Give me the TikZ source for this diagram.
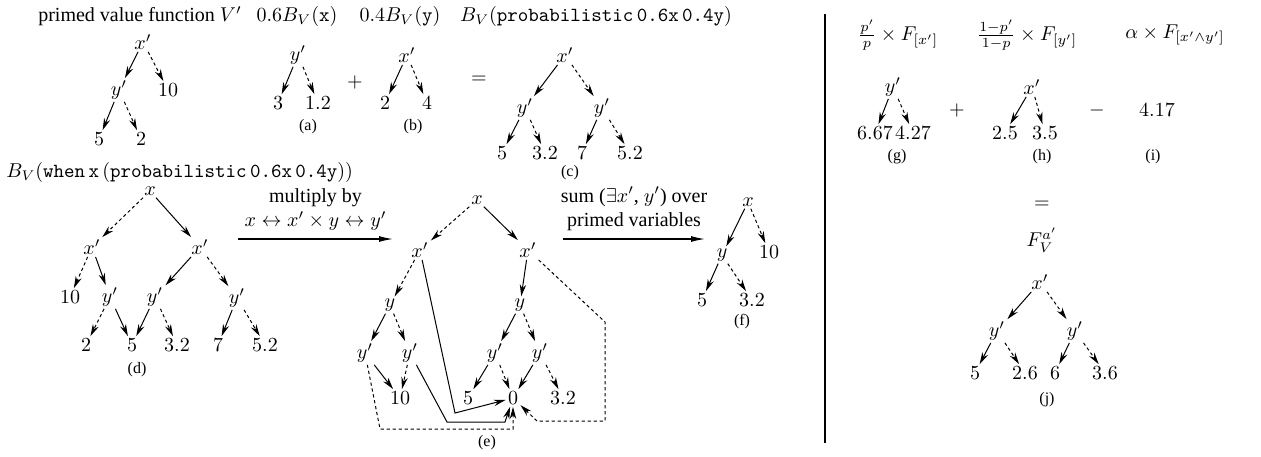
\documentclass[tikz,border=0pt]{standalone}
\usepackage[no-math]{fontspec}
\setmainfont{Liberation Serif}
\usetikzlibrary{arrows.meta}

\begin{document}
\begin{tikzpicture}[
  x=0.5pt, y=-0.5pt,
  every node/.style={inner sep=1pt},
  hi/.style={-{Stealth[length=6pt,width=3.2pt]}, line width=0.5pt},
  lo/.style={hi, dash pattern=on 1.6pt off 1.4pt},
  subcap/.style={font=\footnotesize},
  bigarr/.style={-{Latex[length=7pt,width=3pt]}, line width=0.6pt}
]
\useasboundingbox (0,0) rectangle (1261,456);

\node (vT) at (140,16) {primed value function $V'$};
\node (vX) at (143,42) {$x'$};
\node (vY) at (119,90) {$y'$};
\node (v10) at (168,90) {$10$};
\node (v5) at (99,139) {$5$};
\node (v2) at (141,139) {$2$};
\draw[hi] (vX) -- (vY);
\draw[lo] (vX) -- (v10);
\draw[hi] (vY) -- (v5);
\draw[lo] (vY) -- (v2);

\node (aT) at (297,16) {$0.6B_V(\texttt{x})$};
\node (aY) at (298,55) {$y'$};
\node (a3) at (278,103) {$3$};
\node (a12) at (318,103) {$1.2$};
\node[subcap] (aC) at (308,127) {(a)};
\draw[hi] (aY) -- (a3);
\draw[lo] (aY) -- (a12);
\node (plusA) at (355,82) {$+$};

\node (bT) at (400,16) {$0.4B_V(\texttt{y})$};
\node (bX) at (407,55) {$x'$};
\node (b2) at (385,103) {$2$};
\node (b4) at (427,103) {$4$};
\node[subcap] (bC) at (413,127) {(b)};
\draw[hi] (bX) -- (b2);
\draw[lo] (bX) -- (b4);
\node (eqC) at (479,80) {$=$};

\node (cT) at (596,16) {$B_V(\texttt{probabilistic}\,\texttt{0.6x}\,\texttt{0.4y})$};
\node (cX) at (565,55) {$x'$};
\node (cY1) at (525,108) {$y'$};
\node (cY2) at (602,108) {$y'$};
\node (c5) at (502,153) {$5$};
\node (c32) at (545,153) {$3.2$};
\node (c7) at (582,153) {$7$};
\node (c52) at (630,153) {$5.2$};
\node[subcap] (cC) at (570,173) {(c)};
\draw[hi] (cX) -- (cY1);
\draw[lo] (cX) -- (cY2);
\draw[hi] (cY1) -- (c5);
\draw[lo] (cY1) -- (c32);
\draw[hi] (cY2) -- (c7);
\draw[lo] (cY2) -- (c52);

\node[anchor=west] (dT) at (4,172) {$B_V(\texttt{when}\,\texttt{x}\,(\texttt{probabilistic}\,\texttt{0.6x}\,\texttt{0.4y}))$};
\node (dX) at (150,191) {$x$};
\node (dXa) at (92,247) {$x'$};
\node (dXb) at (200,247) {$x'$};
\node (d10) at (70,297) {$10$};
\node (dY1) at (110,297) {$y'$};
\node (dY2) at (155,297) {$y'$};
\node (dY3) at (237,298) {$y'$};
\node (d2) at (86,345) {$2$};
\node (d5) at (132,345) {$5$};
\node (d32) at (177,345) {$3.2$};
\node (d7) at (218,345) {$7$};
\node (d52) at (265,345) {$5.2$};
\node[subcap] (dC) at (137,370) {(d)};
\draw[lo] (dX) -- (dXa);
\draw[hi] (dX) -- (dXb);
\draw[lo] (dXa) -- (d10);
\draw[hi] (dXa) -- (dY1);
\draw[hi] (dXb) -- (dY2);
\draw[lo] (dXb) -- (dY3);
\draw[lo] (dY1) -- (d2);
\draw[hi] (dY1) -- (d5);
\draw[hi] (dY2) -- (d5);
\draw[lo] (dY2) -- (d32);
\draw[hi] (dY3) -- (d7);
\draw[lo] (dY3) -- (d52);

\coordinate (mulA) at (238,239);
\coordinate (mulB) at (393,239);
\draw[bigarr] (mulA) -- node[above=3pt, align=center] {multiply by\\$x \leftrightarrow x' \times y \leftrightarrow y'$} (mulB);

\node (eX) at (477,200) {$x$};
\node (eXa) at (420,250) {$x'$};
\node (eXb) at (528,250) {$x'$};
\node (eYa) at (390,305) {$y$};
\node (eYb) at (520,305) {$y$};
\node (eY1) at (365,353) {$y'$};
\node (eY2) at (410,353) {$y'$};
\node (eY3) at (495,353) {$y'$};
\node (eY4) at (540,353) {$y'$};
\node (e10) at (400,398) {$10$};
\node (e5) at (468,398) {$5$};
\node (e0) at (513,398) {$0$};
\node (e32) at (563,398) {$3.2$};
\node[subcap] (eC) at (487,443) {(e)};
\draw[lo] (eX) -- (eXa);
\draw[hi] (eX) -- (eXb);
\draw[lo] (eXa) -- (eYa);
\draw[hi] (eXa) -- (455,413) -- (e0);
\draw[hi] (eXb) -- (eYb);
\draw[lo] (eXb) -- (605,322) -- (605,421) -- (537,421) -- (e0);
\draw[hi] (eYa) -- (eY1);
\draw[lo] (eYa) -- (eY2);
\draw[hi] (eY1) -- (e10);
\draw[lo] (eY1) -- (380,429) -- (513,429) -- (e0);
\draw[lo] (eY2) -- (e10);
\draw[hi] (eY2) -- (447,422) -- (505,422) -- (e0);
\draw[hi] (eYb) -- (eY3);
\draw[lo] (eYb) -- (eY4);
\draw[hi] (eY3) -- (e5);
\draw[lo] (eY3) -- (e0);
\draw[hi] (eY4) -- (e0);
\draw[lo] (eY4) -- (e32);

\coordinate (sumA) at (563,239);
\coordinate (sumB) at (705,239);
\draw[bigarr] (sumA) -- node[above=3pt, align=center] {sum ($\exists x'$, $y'$) over\\primed variables} (sumB);

\node (fX) at (748,202) {$x$};
\node (fY) at (722,255) {$y$};
\node (f10) at (769,252) {$10$};
\node (f5) at (702,300) {$5$};
\node (f32) at (752,300) {$3.2$};
\node[subcap] (fC) at (742,322) {(f)};
\draw[hi] (fX) -- (fY);
\draw[lo] (fX) -- (f10);
\draw[hi] (fY) -- (f5);
\draw[lo] (fY) -- (f32);

\coordinate (sepT) at (825,14);
\coordinate (sepB) at (825,443);
\draw[line width=0.6pt] (sepT) -- (sepB);

\node (gT) at (898,35) {$\frac{p'}{p} \times F_{[x']}$};
\node (hT) at (1027,35) {$\frac{1-p'}{1-p} \times F_{[y']}$};
\node (iT) at (1175,35) {$\alpha \times F_{[x' \wedge y']}$};
\node (gY) at (893,87) {$y'$};
\node (g667) at (875,133) {$6.67$};
\node (g427) at (913,133) {$4.27$};
\node[subcap] (gC) at (897,157) {(g)};
\draw[hi] (gY) -- (g667);
\draw[lo] (gY) -- (g427);
\node (plusG) at (957,110) {$+$};
\node (hX) at (1032,87) {$x'$};
\node (h25) at (1005,133) {$2.5$};
\node (h35) at (1045,133) {$3.5$};
\node[subcap] (hC) at (1042,157) {(h)};
\draw[hi] (hX) -- (h25);
\draw[lo] (hX) -- (h35);
\node (minusH) at (1097,110) {$-$};
\node (i417) at (1157,110) {$4.17$};
\node[subcap] (iC) at (1153,157) {(i)};

\node (eqJ) at (1042,205) {$=$};
\node (jT) at (1042,240) {$F_V^{a'}$};
\node (jX) at (1040,282) {$x'$};
\node (jY1) at (997,331) {$y'$};
\node (jY2) at (1075,331) {$y'$};
\node (j5) at (975,373) {$5$};
\node (j26) at (1025,373) {$2.6$};
\node (j6) at (1055,373) {$6$};
\node (j36) at (1105,373) {$3.6$};
\node[subcap] (jC) at (1047,400) {(j)};
\draw[hi] (jX) -- (jY1);
\draw[lo] (jX) -- (jY2);
\draw[hi] (jY1) -- (j5);
\draw[lo] (jY1) -- (j26);
\draw[hi] (jY2) -- (j6);
\draw[lo] (jY2) -- (j36);
\end{tikzpicture}
\end{document}
